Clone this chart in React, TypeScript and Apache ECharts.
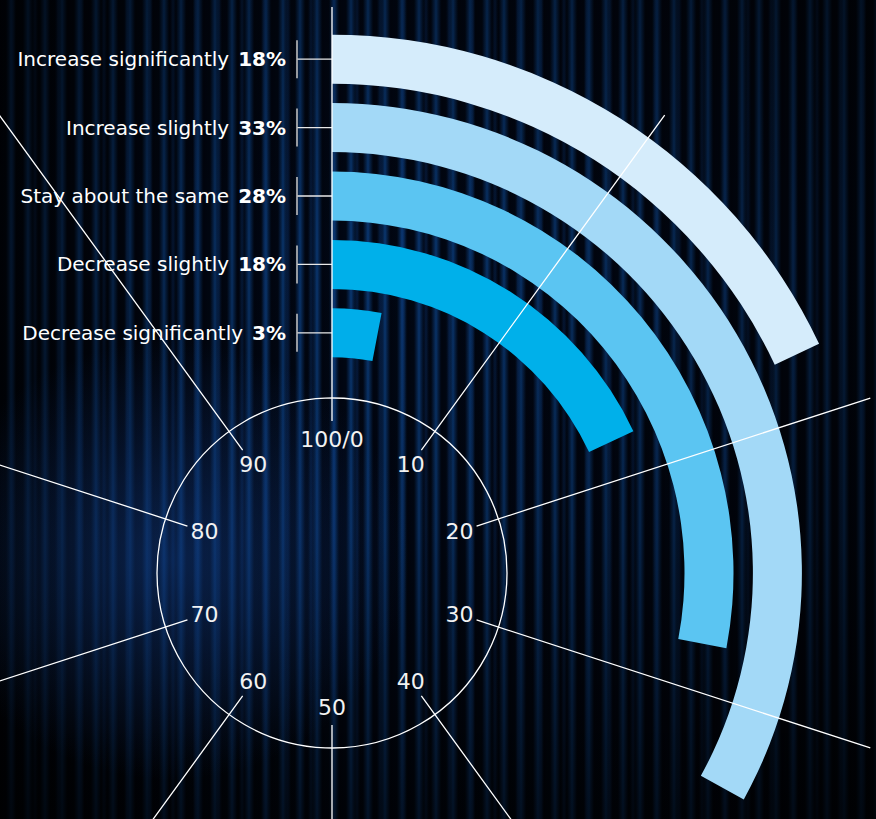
import React, { useEffect, useRef } from "react";
import * as echarts from "echarts";

// inner ring -> outer ring
const categoryNames = [
  "Decrease significantly",
  "Decrease slightly",
  "Stay about the same",
  "Increase slightly",
  "Increase significantly",
];
const shares = [3, 18, 28, 33, 18];
const barColors = ["#00AEEA", "#00B0EA", "#5BC5F2", "#A3D9F7", "#D5ECFB"];
const angleMin = 0;
const angleMax = 100;
const angleStep = 10;

const FONT = "'DejaVu Sans', 'Noto Sans', sans-serif";
const CENTER: [number, number] = [332, 573];

export default function App() {
  const ref = useRef<HTMLDivElement>(null);

  useEffect(() => {
    if (!ref.current) return;
    const chart = echarts.init(ref.current, undefined, { renderer: "svg" });

    const hiddenAngle = {
      type: "value",
      min: angleMin,
      max: angleMax,
      interval: angleStep,
      startAngle: 90,
      clockwise: true,
      axisLine: { show: false },
      axisTick: { show: false },
      axisLabel: { show: false },
      splitLine: { show: false },
    };

    const option: any = {
      animation: false,
      backgroundColor: "transparent",
      polar: [
        { center: CENTER, radius: [206, 548] }, // bars
        { center: CENTER, radius: [152, 566] }, // radial spokes
        { center: CENTER, radius: [0, 175] }, // inner dial circle
        { center: CENTER, radius: [0, 1000] }, // dial labels
      ],
      angleAxis: [
        { ...hiddenAngle, polarIndex: 0 },
        {
          ...hiddenAngle,
          polarIndex: 1,
          z: 10,
          splitLine: { show: true, lineStyle: { color: "#ffffff", width: 1.3 } },
        },
        {
          ...hiddenAngle,
          polarIndex: 2,
          axisLine: { show: true, lineStyle: { color: "#ffffff", width: 1.3 } },
        },
        {
          ...hiddenAngle,
          polarIndex: 3,
          axisLabel: {
            show: true,
            margin: -866,
            color: "#f2f2f2",
            fontSize: 22,
            fontFamily: FONT,
            formatter: (v: number) =>
              v === angleMin ? `${angleMax}/${angleMin}` : v === angleMax ? "" : String(v),
          },
        },
      ],
      radiusAxis: [
        {
          polarIndex: 0,
          type: "category",
          data: categoryNames,
          axisLine: { show: false },
          axisTick: { show: false },
          splitLine: { show: false },
          axisLabel: {
            show: true,
            interval: 0,
            margin: 46,
            formatter: (v: string, i: number) => `{n|${v}}{b|${shares[i]}%}`,
            rich: {
              n: { color: "#ffffff", fontSize: 20, fontFamily: FONT },
              b: {
                color: "#ffffff",
                fontSize: 20,
                fontFamily: FONT,
                fontWeight: "bold",
                padding: [0, 0, 0, 9],
              },
            },
          },
        },
        { polarIndex: 1, type: "value", min: 0, max: 1, show: false },
        { polarIndex: 2, type: "value", min: 0, max: 1, show: false },
        { polarIndex: 3, type: "value", min: 0, max: 1, show: false },
      ],
      series: [
        {
          type: "bar",
          coordinateSystem: "polar",
          polarIndex: 0,
          barWidth: 49,
          data: shares.map((v, i) => ({ value: v, itemStyle: { color: barColors[i] } })),
        },
        {
          type: "custom",
          coordinateSystem: "polar",
          polarIndex: 0,
          silent: true,
          z: 5,
          data: categoryNames.map((_, i) => [i, angleMin]),
          encode: { radius: 0, angle: 1 },
          renderItem: (params: any, api: any) => {
            const p = api.coord([api.value(0), api.value(1)]);
            const x0 = p[0] - 35;
            return {
              type: "group",
              children: [
                {
                  type: "line",
                  shape: { x1: x0, y1: p[1], x2: p[0], y2: p[1] },
                  style: { stroke: "#e8e8e8", lineWidth: 1.3 },
                },
                {
                  type: "line",
                  shape: { x1: x0, y1: p[1] - 19, x2: x0, y2: p[1] + 19 },
                  style: { stroke: "#bdbdbd", lineWidth: 1.6 },
                },
              ],
            };
          },
        },
      ],
    };

    chart.setOption(option);
    return () => chart.dispose();
  }, []);

  const bg = [
    "radial-gradient(ellipse 240px 220px at 170px 560px, rgba(25,85,185,0.36), rgba(25,85,185,0) 100%)",
    "linear-gradient(90deg, rgba(0,0,0,0.65) 0%, rgba(0,0,0,0.2) 22%, rgba(0,0,0,0) 40%, rgba(0,0,0,0.2) 70%, rgba(0,0,0,0.55) 100%)",
    "linear-gradient(180deg, rgba(0,0,0,0.3) 0%, rgba(0,0,0,0) 30%, rgba(0,0,0,0.15) 65%, rgba(0,0,0,0.65) 100%)",
    "repeating-linear-gradient(90deg, rgba(8,50,110,0) 0px, rgba(8,50,110,0) 9px, rgba(12,60,130,0.4) 12px, rgba(8,50,110,0) 15px, rgba(8,50,110,0) 23px)",
    "repeating-linear-gradient(90deg, #010511 0px, #010714 6px, #06234b 9px, #0a3873 11px, #06234b 13px, #010714 16px, #010511 17px)",
    "#010511",
  ].join(", ");

  return (
    <div
      ref={ref}
      style={{
        position: "fixed",
        left: 0,
        top: 0,
        width: 876,
        height: 819,
        background: bg,
      }}
    />
  );
}
